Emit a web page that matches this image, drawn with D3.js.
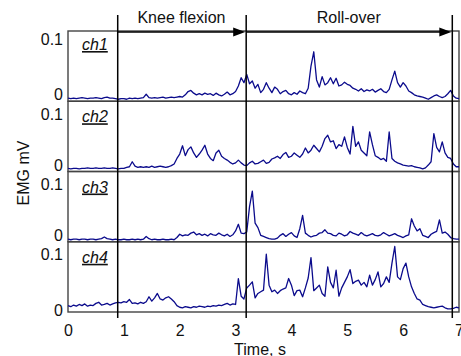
<!DOCTYPE html>
<html>

<head>
    <meta charset="utf-8">
    <style>
        body {
            margin: 0;
            background: #fff;
        }

        svg {
            display: block;
            font-family: Arial, 'Liberation Sans', sans-serif;
        }

        .axis .domain {
            display: none;
        }

        .axis .tick text {
            font-size: 16px;
            fill: #111;
        }

        .ch-label {
            font-size: 16px;
            font-style: italic;
            text-decoration: underline;
            fill: #111;
        }

        .phase-label,
        .axis-label {
            font-size: 16px;
            fill: #111;
        }
    </style>
</head>

<body>
    <svg width="461" height="356"></svg>

    <script src="https://d3js.org/d3.v7.min.js"></script>
    <script>
        // EMG envelopes, one value every 0.05 s from 0 to 7 s (mV)
        const timeStep = 0.05;
        const channels = ["ch1", "ch2", "ch3", "ch4"];

        const ch1 = [
            0.002, 0.001, 0.002, 0.001, 0.002, 0.003, 0.002, 0.001, 0.002, 0.002, 0.003, 0.002, 0.001, 0.003, 0.004, 0.002, 0.002, 0.001,
            0.000, 0.001, 0.001, 0.000, 0.002, 0.001, 0.002, 0.001, 0.002, 0.003, 0.009, 0.003,
            0.002, 0.003, 0.002, 0.003, 0.004, 0.002, 0.003, 0.004, 0.003, 0.004, 0.005, 0.004, 0.008,
            0.014, 0.016, 0.011, 0.008, 0.010, 0.008, 0.011, 0.009, 0.010, 0.007, 0.011, 0.008, 0.006, 0.009, 0.013, 0.008, 0.010, 0.014, 0.024,
            0.039, 0.030, 0.045, 0.028, 0.033, 0.020, 0.027, 0.012, 0.018, 0.030,
            0.020, 0.012, 0.022, 0.018, 0.010, 0.014, 0.016, 0.010, 0.008, 0.012,
            0.009, 0.015, 0.012, 0.010, 0.020, 0.060, 0.086, 0.035, 0.022, 0.041,
            0.026, 0.030, 0.039, 0.028, 0.038, 0.024, 0.026, 0.031, 0.027, 0.025,
            0.020, 0.018, 0.015, 0.019, 0.014, 0.017, 0.015, 0.018, 0.013, 0.016,
            0.019, 0.014, 0.012, 0.018, 0.035, 0.051, 0.030, 0.022, 0.030, 0.024,
            0.015, 0.012, 0.008, 0.006, 0.005, 0.004, 0.002, 0.000, 0.003, 0.006,
            0.008, 0.005, 0.003, 0.005, 0.010, 0.016, 0.006, 0.002, 0.001
        ];

        const ch2 = [
            0.002, 0.001, 0.002, 0.002, 0.001, 0.002, 0.002, 0.003, 0.002, 0.002, 0.003, 0.002, 0.002, 0.003, 0.002, 0.002, 0.003, 0.002,
            0.001, 0.002, 0.002, 0.004, 0.005, 0.014, 0.006, 0.004, 0.005, 0.004, 0.005, 0.004,
            0.006, 0.004, 0.005, 0.006, 0.005, 0.004, 0.005, 0.007,
            0.010, 0.020, 0.028, 0.043, 0.025, 0.036, 0.041, 0.030, 0.022, 0.028,
            0.035, 0.044, 0.028, 0.020, 0.016, 0.030, 0.035, 0.024, 0.020, 0.017,
            0.013, 0.010, 0.012, 0.017, 0.012, 0.008, 0.007, 0.012, 0.015, 0.010,
            0.011, 0.014, 0.017, 0.011, 0.013, 0.019, 0.021, 0.024, 0.020, 0.027,
            0.031, 0.022, 0.024, 0.030, 0.026, 0.022, 0.028, 0.039, 0.030, 0.035,
            0.044, 0.038, 0.032, 0.042, 0.056, 0.062, 0.050, 0.052, 0.038, 0.045,
            0.042, 0.059, 0.040, 0.028, 0.078, 0.042, 0.050, 0.035, 0.030, 0.025,
            0.068, 0.045, 0.025, 0.022, 0.018, 0.020, 0.015, 0.068, 0.020, 0.015,
            0.012, 0.010, 0.008, 0.007, 0.006, 0.007, 0.005, 0.004, 0.003, 0.001,
            0.003, 0.008, 0.014, 0.065, 0.040, 0.032, 0.050, 0.030, 0.022, 0.020,
            0.010, 0.005, 0.005
        ];

        const ch3 = [
            0.001, 0.000, 0.001, 0.001, 0.000, 0.001, 0.001, 0.000, 0.001, 0.001, 0.000, 0.001, 0.002, 0.005, 0.002, 0.001, 0.000, 0.001,
            0.000, 0.000, 0.001, 0.000, 0.000, 0.001, 0.000, 0.001, 0.000, 0.001, 0.006, 0.002,
            0.000, 0.001, 0.000, 0.000, 0.001, 0.000, 0.000, 0.001, 0.000, 0.004,
            0.010, 0.007, 0.009, 0.008, 0.012, 0.014, 0.009, 0.011, 0.008, 0.010,
            0.007, 0.011, 0.009, 0.008, 0.012, 0.009, 0.007, 0.010, 0.006, 0.009,
            0.016, 0.028, 0.012, 0.011, 0.014, 0.060, 0.088, 0.030, 0.022, 0.008,
            0.006, 0.004, 0.002, 0.001, 0.001, 0.003, 0.008, 0.011, 0.006, 0.010,
            0.013, 0.007, 0.004, 0.020, 0.044, 0.012, 0.008, 0.005, 0.007, 0.008,
            0.012, 0.013, 0.018, 0.012, 0.011, 0.008, 0.007, 0.012, 0.010, 0.007,
            0.009, 0.015, 0.012, 0.010, 0.008, 0.013, 0.009, 0.007, 0.009, 0.011,
            0.008, 0.007, 0.009, 0.013, 0.010, 0.007, 0.009, 0.011, 0.008, 0.006,
            0.004, 0.007, 0.009, 0.038, 0.025, 0.016, 0.020, 0.008, 0.006, 0.004,
            0.010, 0.013, 0.015, 0.036, 0.012, 0.014, 0.010, 0.004, 0.002, 0.001,
            0.001
        ];

        const ch4 = [
            0.008, 0.006, 0.009, 0.007, 0.010, 0.008, 0.011, 0.007, 0.009, 0.008, 0.012, 0.014, 0.009, 0.010, 0.012, 0.009, 0.011, 0.013,
            0.014, 0.013, 0.015, 0.014, 0.019, 0.012, 0.013, 0.011, 0.014, 0.012, 0.015, 0.024, 0.016, 0.022, 0.030, 0.020, 0.018, 0.022, 0.024, 0.020, 0.015, 0.008,
            0.005, 0.004, 0.006, 0.005, 0.004, 0.006, 0.005, 0.007, 0.006, 0.005, 0.007, 0.006, 0.008, 0.007, 0.009, 0.008, 0.010, 0.012, 0.009, 0.011,
            0.010, 0.057, 0.025, 0.020, 0.040, 0.045, 0.051, 0.022, 0.030, 0.033,
            0.036, 0.101, 0.045, 0.033, 0.036, 0.030, 0.035, 0.038, 0.040, 0.057,
            0.045, 0.026, 0.035, 0.036, 0.024, 0.040, 0.058, 0.095, 0.035, 0.040,
            0.045, 0.030, 0.025, 0.078, 0.050, 0.040, 0.072, 0.025, 0.040, 0.050,
            0.060, 0.073, 0.048, 0.052, 0.054, 0.045, 0.050, 0.042, 0.063, 0.045,
            0.055, 0.069, 0.042, 0.048, 0.060, 0.050, 0.085, 0.115, 0.060, 0.055,
            0.075, 0.085, 0.060, 0.042, 0.030, 0.020, 0.018, 0.010, 0.008, 0.006,
            0.005, 0.004, 0.005, 0.006, 0.007, 0.004, 0.002, 0.002, 0.003, 0.005,
            0.004
        ];

        const signals = [ch1, ch2, ch3, ch4];

        // phase markers (s) and the phase names between them
        const eventTimes = [0.89, 3.19, 6.88];
        const phaseNames = ["Knee flexion", "Roll-over"];

        const xTicks = [0, 1, 2, 3, 4, 5, 6, 7];
        const yTicks = [0, 0.1];

        let plotTop = 31;
        let plotBottom = 312;
        let panelH = (plotBottom - plotTop) / channels.length;

        let svg = d3.select("svg");

        let x = d3.scaleLinear()
            .domain([0, 7])
            .range([68, 459]);

        let line = d3.line()
            .x((d, i) => x(i * timeStep));

        // one panel per channel
        channels.forEach((name, i) => {
            let top = plotTop + i * panelH;
            let y = d3.scaleLinear()
                .domain([0, 0.12])
                .range([top + panelH - 2, top + 2]);

            let g = svg.append("g").attr("class", "panel");

            g.append("rect")
                .attr("x", x(0))
                .attr("y", top)
                .attr("width", x(7) - x(0))
                .attr("height", panelH)
                .attr("fill", "none")
                .attr("stroke", "#444")
                .attr("stroke-width", 1.4);

            g.append("path")
                .datum(signals[i])
                .attr("d", line.y(d => y(d)))
                .attr("fill", "none")
                .attr("stroke", "#0b0b8c")
                .attr("stroke-width", 1.3)
                .attr("stroke-linejoin", "round");

            g.append("g")
                .attr("class", "y axis")
                .attr("transform", `translate(${x(0)},0)`)
                .call(d3.axisLeft(y).tickValues(yTicks).tickSize(0).tickPadding(5).tickFormat(d3.format("")))
                .call(a => a.selectAll(".tick text")
                    .attr("transform", d => {
                        // nudge labels like the original figure
                        if (d === 0 && i < 3) return "translate(0,-4.5)";
                        if (d === 0.1 && i === 0) return "translate(0,-4.5)";
                        return null;
                    }));

            g.append("text")
                .attr("class", "ch-label")
                .attr("x", 82)
                .attr("y", top + (i === 0 ? 19 : 21))
                .text(name);
        });

        // x axis under the last panel
        svg.append("g")
            .attr("class", "x axis")
            .attr("transform", `translate(0,${plotBottom})`)
            .call(d3.axisBottom(x).tickValues(xTicks).tickSize(0).tickPadding(12.5).tickFormat(d3.format("d")));

        // phase marker lines
        svg.append("g")
            .selectAll("line")
            .data(eventTimes)
            .join("line")
            .attr("x1", d => x(d))
            .attr("x2", d => x(d))
            .attr("y1", 15)
            .attr("y2", 318)
            .attr("stroke", "#000")
            .attr("stroke-width", 1.5);

        // arrows and names of the phases
        let arrowY = plotTop + 1;
        phaseNames.forEach((name, i) => {
            let x0 = x(eventTimes[i]);
            let x1 = x(eventTimes[i + 1]) - 1;

            svg.append("line")
                .attr("x1", x0)
                .attr("x2", x1 - 10)
                .attr("y1", arrowY)
                .attr("y2", arrowY)
                .attr("stroke", "#000")
                .attr("stroke-width", 1.6);

            svg.append("path")
                .attr("d", `M${x1},${arrowY} L${x1 - 12},${arrowY - 4.5} L${x1 - 12},${arrowY + 4.5} Z`)
                .attr("fill", "#000");

            svg.append("text")
                .attr("class", "phase-label")
                .attr("x", (x0 + x1) / 2)
                .attr("y", 23)
                .attr("text-anchor", "middle")
                .text(name);
        });

        svg.append("text")
            .attr("class", "axis-label")
            .attr("x", 260)
            .attr("y", 355)
            .attr("text-anchor", "middle")
            .text("Time, s");

        svg.append("text")
            .attr("class", "axis-label")
            .attr("transform", "translate(29,173) rotate(-90)")
            .attr("text-anchor", "middle")
            .text("EMG mV");
    </script>
</body>

</html>
